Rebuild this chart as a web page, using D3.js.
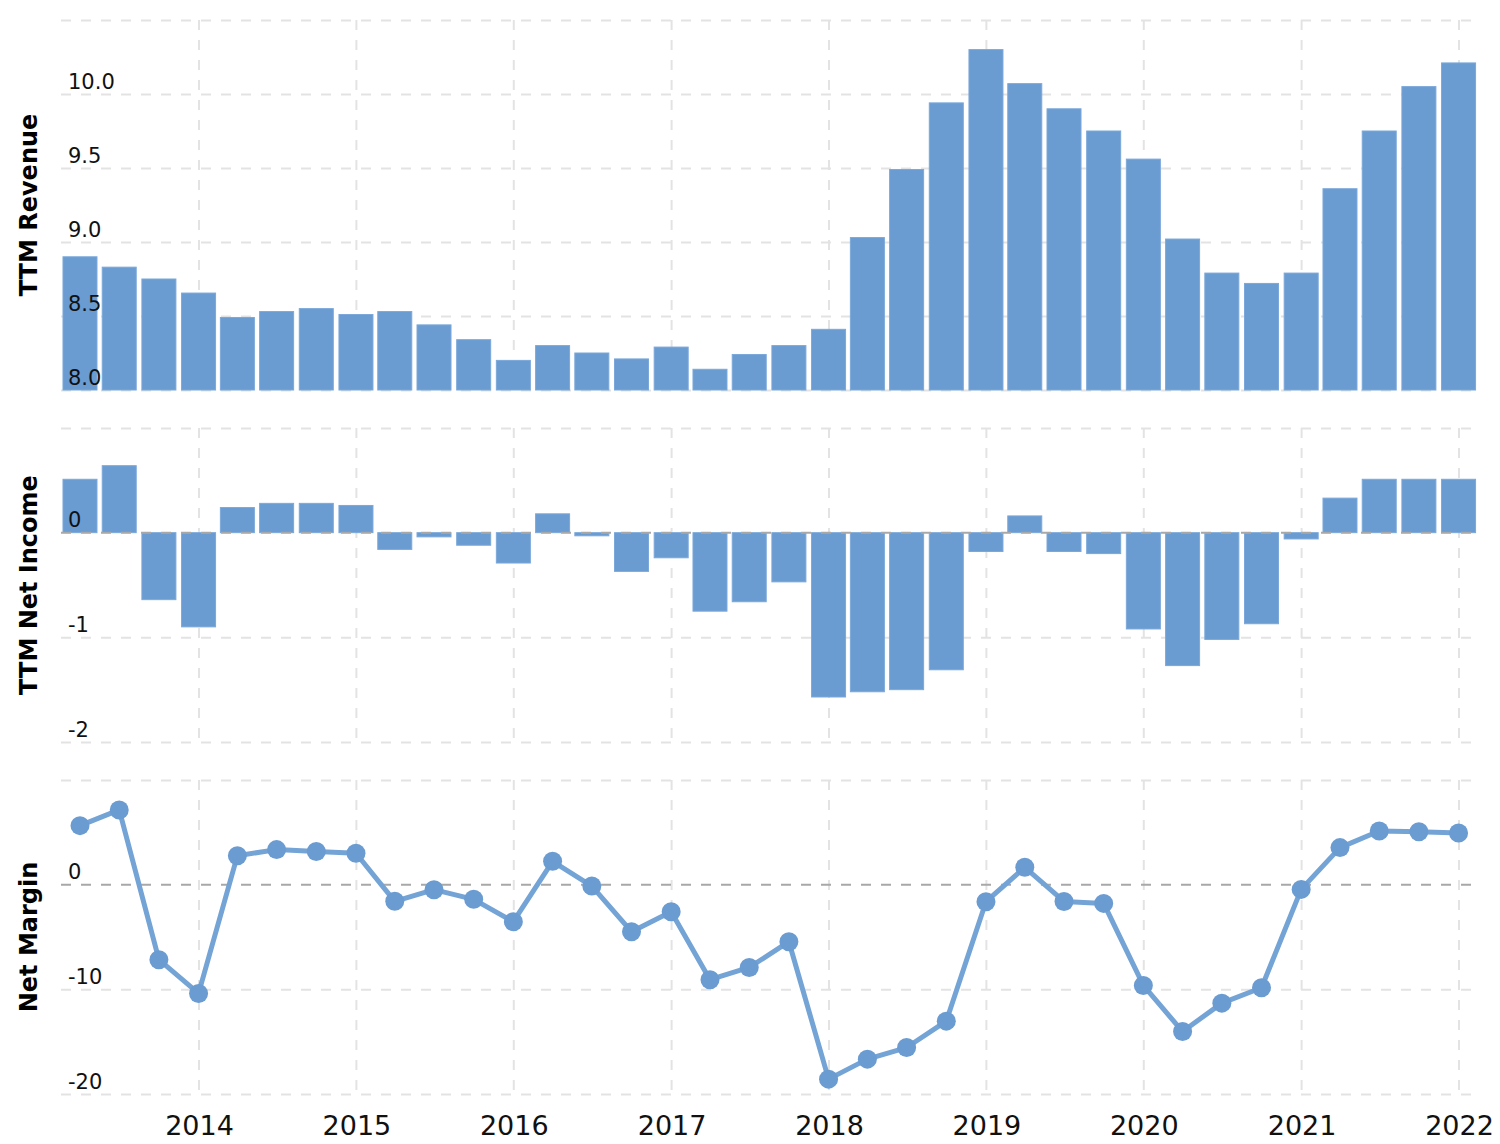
<!DOCTYPE html>
<html>
<head>
<meta charset="utf-8">
<script src="https://cdn.jsdelivr.net/npm/d3@7"></script>
<style>
  html, body { margin: 0; padding: 0; background: #fff; }
  svg { display: block; }
</style>
</head>
<body>
<svg id="chart" width="1500" height="1144"></svg>
<script>
// ---- Data (quarter-end dates) ----
const quarters = [
  "2013-03-31","2013-06-30","2013-09-30","2013-12-31",
  "2014-03-31","2014-06-30","2014-09-30","2014-12-31",
  "2015-03-31","2015-06-30","2015-09-30","2015-12-31",
  "2016-03-31","2016-06-30","2016-09-30","2016-12-31",
  "2017-03-31","2017-06-30","2017-09-30","2017-12-31",
  "2018-03-31","2018-06-30","2018-09-30","2018-12-31",
  "2019-03-31","2019-06-30","2019-09-30","2019-12-31",
  "2020-03-31","2020-06-30","2020-09-30","2020-12-31",
  "2021-03-31","2021-06-30","2021-09-30","2021-12-31"
];
const ttmRevenue = [8.90, 8.83, 8.75, 8.655, 8.49, 8.53, 8.55, 8.51, 8.53, 8.44, 8.34, 8.20,
                    8.30, 8.25, 8.21, 8.29, 8.14, 8.24, 8.30, 8.41, 9.03, 9.49, 9.94, 10.30,
                    10.07, 9.90, 9.75, 9.56, 9.02, 8.79, 8.72, 8.79, 9.36, 9.75, 10.05, 10.21];
const ttmNetIncome = [0.51, 0.64, -0.64, -0.90, 0.24, 0.28, 0.28, 0.26, -0.16, -0.04, -0.12, -0.29,
                      0.18, -0.03, -0.37, -0.24, -0.75, -0.66, -0.47, -1.57, -1.52, -1.50, -1.31, -0.18,
                      0.16, -0.18, -0.20, -0.92, -1.27, -1.02, -0.87, -0.06, 0.33, 0.51, 0.51, 0.51];
const netMargin = [5.64, 7.14, -7.17, -10.39, 2.77, 3.35, 3.16, 3.00, -1.59, -0.48, -1.40, -3.54,
                   2.23, -0.13, -4.49, -2.58, -9.08, -7.91, -5.45, -18.58, -16.67, -15.56, -13.04, -1.63,
                   1.66, -1.60, -1.79, -9.63, -14.03, -11.32, -9.85, -0.45, 3.54, 5.13, 5.05, 4.94];
const yearTicks = [2014, 2015, 2016, 2017, 2018, 2019, 2020, 2021, 2022];
const revenueTicks = [8.0, 8.5, 9.0, 9.5, 10.0, 10.5];
const incomeTicks = [-2, -1, 0, 1];
const marginTicks = [-20, -10, 0, 10];
const panelTitles = ["TTM Revenue", "TTM Net Income", "Net Margin"];

// ---- Layout ----
const svg = d3.select("#chart");
const W = 1500, H = 1144;
const left = 61, right = 1473;
const barColor = "#6a9bd1";
const gridColor = "#e3e3e3";
const zeroColor = "#a8a8a8";
const font = "'DejaVu Sans', Verdana, sans-serif";

svg.append("rect").attr("width", W).attr("height", H).attr("fill", "#fff");

const parse = d3.utcParse("%Y-%m-%d");
const dates = quarters.map(parse);

const x = d3.scaleUtc()
  .domain([new Date(Date.UTC(2014, 0, 1)), new Date(Date.UTC(2022, 0, 1))])
  .range([199, 1459]);

const hy = f => (d => f(d).replace("\u2212", "-"));
const panels = [
  { y: d3.scaleLinear().domain([8.0, 10.5]).range([390, 20]), ticks: revenueTicks, fmt: hy(d3.format(".1f")), zero: false },
  { y: d3.scaleLinear().domain([-2, 1]).range([742, 428]), ticks: incomeTicks, fmt: hy(d3.format("d")), zero: true },
  { y: d3.scaleLinear().domain([-20, 10]).range([1094, 780]), ticks: marginTicks, fmt: hy(d3.format("d")), zero: true }
];

function drawGrid(p) {
  const [y0, y1] = p.y.range(); // bottom, top
  // vertical year gridlines
  svg.append("g").selectAll("line").data(yearTicks).join("line")
    .attr("x1", d => x(new Date(Date.UTC(d, 0, 1))))
    .attr("x2", d => x(new Date(Date.UTC(d, 0, 1))))
    .attr("y1", y1).attr("y2", y0)
    .attr("stroke", gridColor).attr("stroke-width", 2)
    .attr("stroke-dasharray", "10,10");
  // horizontal gridlines via axis (no labels)
  const grid = d3.axisLeft(p.y)
    .tickValues(p.ticks.filter(d => !(p.zero && d === 0)))
    .tickSize(-(right - left))
    .tickFormat("");
  const g = svg.append("g").attr("transform", `translate(${left},0)`).call(grid);
  g.select(".domain").remove();
  g.selectAll(".tick line")
    .attr("stroke", gridColor)
    .attr("stroke-width", 2)
    .attr("stroke-dasharray", "10,10");
}

function drawLabels(p) {
  const axis = d3.axisLeft(p.y)
    .tickValues(p.ticks.slice(0, -1))
    .tickSize(0)
    .tickFormat(p.fmt);
  const g = svg.append("g").attr("transform", `translate(${left},0)`).call(axis);
  g.select(".domain").remove();
  g.selectAll(".tick line").remove();
  g.selectAll(".tick text")
    .attr("x", 7).attr("dy", "-0.28em")
    .attr("text-anchor", "start")
    .style("font-family", font).style("font-size", "21px").attr("fill", "#111");
}

function drawZero(p) {
  svg.append("line")
    .attr("x1", left).attr("x2", right)
    .attr("y1", p.y(0)).attr("y2", p.y(0))
    .attr("stroke", zeroColor).attr("stroke-width", 2)
    .attr("stroke-dasharray", "10,10");
}

// ---- Panel 1: TTM Revenue ----
const p1 = panels[0];
drawGrid(p1);
svg.append("g").selectAll("rect").data(ttmRevenue).join("rect")
  .attr("x", (d, i) => x(dates[i]) - 17)
  .attr("width", 34)
  .attr("y", d => p1.y(d))
  .attr("height", d => p1.y(8.0) - p1.y(d))
  .attr("fill", barColor).attr("stroke", "#7ba8da").attr("stroke-width", 1);
drawLabels(p1);

// ---- Panel 2: TTM Net Income ----
const p2 = panels[1];
drawGrid(p2);
svg.append("g").selectAll("rect").data(ttmNetIncome).join("rect")
  .attr("x", (d, i) => x(dates[i]) - 17)
  .attr("width", 34)
  .attr("y", d => p2.y(Math.max(0, d)))
  .attr("height", d => Math.abs(p2.y(d) - p2.y(0)))
  .attr("fill", barColor).attr("stroke", "#7ba8da").attr("stroke-width", 1);
drawZero(p2);
drawLabels(p2);

// ---- Panel 3: Net Margin ----
const p3 = panels[2];
drawGrid(p3);
drawZero(p3);
const line = d3.line()
  .x((d, i) => x(dates[i]))
  .y(d => p3.y(d));
svg.append("path").datum(netMargin)
  .attr("d", line)
  .attr("fill", "none")
  .attr("stroke", "#74a3d6")
  .attr("stroke-width", 5)
  .attr("stroke-linejoin", "round");
svg.append("g").selectAll("circle").data(netMargin).join("circle")
  .attr("cx", (d, i) => x(dates[i]))
  .attr("cy", d => p3.y(d))
  .attr("r", 9.5)
  .attr("fill", barColor);
drawLabels(p3);

// ---- X axis labels ----
const xAxis = d3.axisBottom(x)
  .tickValues(yearTicks.map(yv => new Date(Date.UTC(yv, 0, 1))))
  .tickSize(0)
  .tickFormat(d3.utcFormat("%Y"));
const gx = svg.append("g").attr("transform", "translate(0,1110)").call(xAxis);
gx.select(".domain").remove();
gx.selectAll(".tick text")
  .attr("y", 0).attr("dy", "25px")
  .style("font-family", font).style("font-size", "27px").attr("fill", "#111");

// ---- Panel titles ----
panels.forEach((p, i) => {
  const [b, t] = p.y.range();
  svg.append("text")
    .attr("transform", `translate(37,${(b + t) / 2}) rotate(-90)`)
    .attr("text-anchor", "middle")
    .style("font-family", font).style("font-size", "24px").style("font-weight", "bold")
    .attr("fill", "#000")
    .text(panelTitles[i]);
});
</script>
</body>
</html>
